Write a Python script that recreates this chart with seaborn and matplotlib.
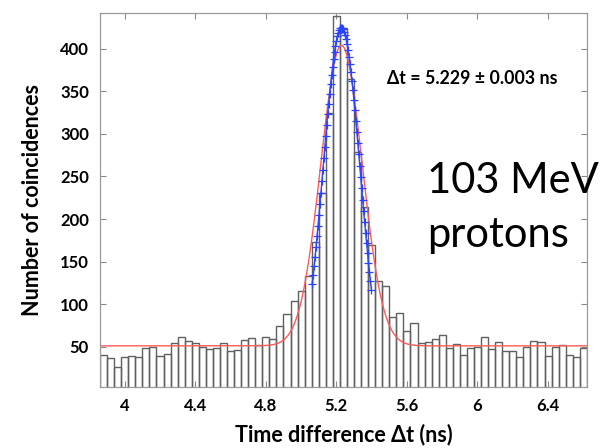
import numpy as np
import pandas as pd
import matplotlib
matplotlib.use("Agg")
import matplotlib.pyplot as plt
import seaborn as sns

# ---- data ----
bin_width = 0.04
bin_centers = [round(3.88 + 0.04 * i, 2) for i in range(69)]
counts = [40, 37, 26, 38, 39, 38, 48, 50, 39, 41,
          54, 61, 57, 54, 50, 47, 48, 54, 45, 46,
          58, 60, 52, 61, 59, 74, 89, 104, 115, 133,
          173, 231, 325, 438, 424, 365, 279, 214, 169, 127,
          121, 85, 90, 68, 78, 54, 56, 59, 64, 48,
          53, 40, 49, 50, 61, 47, 56, 45, 45, 38,
          50, 57, 56, 39, 50, 52, 40, 38, 48]

# Gaussian fit parameters
red_baseline, red_amp, red_mu, red_sigma = 51.0, 353.0, 5.229, 0.117
blue_amp, blue_mu, blue_sigma = 424.6, 5.229, 0.1056
blue_range = (5.063, 5.40)

xticks = [4, 4.4, 4.8, 5.2, 5.6, 6, 6.4]
xtick_labels = ["4", "4.4", "4.8", "5.2", "5.6", "6", "6.4"]
yticks = [50, 100, 150, 200, 250, 300, 350, 400]

# ---- style ----
sns.set_theme(style="white")
plt.rcParams['font.family'] = ['Lato', 'DejaVu Sans']
plt.rcParams['text.color'] = 'black'
plt.rcParams['axes.labelcolor'] = 'black'
plt.rcParams['xtick.labelcolor'] = 'black'
plt.rcParams['ytick.labelcolor'] = 'black'

fig = plt.figure(figsize=(6.05, 4.48), dpi=100)
ax = fig.add_axes([0.1653, 0.1368, 0.8047, 0.8342])

edges = [bin_centers[0] - bin_width / 2 + bin_width * i for i in range(len(bin_centers) + 1)]
hist_df = pd.DataFrame({"t": bin_centers, "n": counts})
sns.histplot(data=hist_df, x="t", weights="n", bins=edges, fill=False,
             color="#606060", linewidth=1.0, ax=ax)

# red fit (full range)
xr = np.linspace(edges[0], edges[-1], 600)
red_df = pd.DataFrame({"t": xr,
                       "y": red_baseline + red_amp * np.exp(-0.5 * ((xr - red_mu) / red_sigma) ** 2)})
sns.lineplot(data=red_df, x="t", y="y", color="#ff5a5a", linewidth=1.0, ax=ax)

# blue fit with cross markers
xb = np.arange(blue_range[0], blue_range[1] + 1e-9, 0.0055)
blue_df = pd.DataFrame({"t": xb,
                        "y": blue_amp * np.exp(-0.5 * ((xb - blue_mu) / blue_sigma) ** 2)})
sns.lineplot(data=blue_df, x="t", y="y", color="#2a45ff", linewidth=1.0,
             marker="+", markersize=6, markeredgewidth=0.9,
             markeredgecolor="#2a45ff", ax=ax)

ax.set_xlim(edges[0], edges[-1])
ax.set_ylim(3, 442)
ax.set_xticks(xticks)
ax.set_xticklabels(xtick_labels)
ax.set_yticks(yticks)
ax.tick_params(axis="both", which="both", direction="in", length=4, width=0.8,
               color="#888888", top=True, right=True, bottom=True, left=True,
               labelsize=12, pad=8, labelcolor="black")
for lab in ax.get_xticklabels() + ax.get_yticklabels():
    lab.set_fontweight("bold")
for sp in ax.spines.values():
    sp.set_color("#999999")
    sp.set_linewidth(0.9)

ax.set_xlabel("Time difference Δt (ns)", fontsize=15.5, fontweight="bold", labelpad=7,
              color="black")
ax.set_ylabel("Number of coincidences", fontsize=15.5, fontweight="bold", labelpad=12,
              color="black")

ax.text(0.5896, 0.826, "Δt = 5.229 ± 0.003 ns", transform=ax.transAxes,
        fontsize=12.8, fontweight="bold", va="center", ha="left", color="black")
ax.text(0.672, 0.518, "103 MeV", transform=ax.transAxes, fontsize=30,
        va="baseline", ha="left", clip_on=False, color="black")
ax.text(0.672, 0.374, "protons", transform=ax.transAxes, fontsize=30,
        va="baseline", ha="left", clip_on=False, color="black")

fig.savefig("out.png", dpi=100)
